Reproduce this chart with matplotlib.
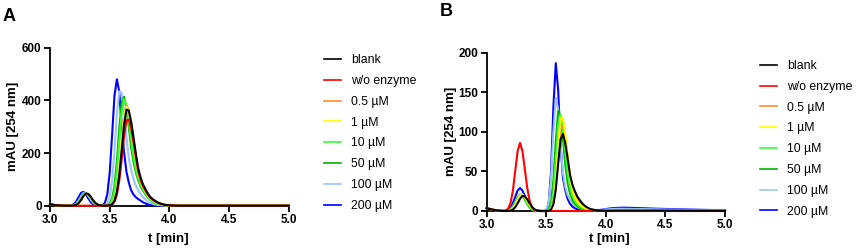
import matplotlib.pyplot as plt
from matplotlib.lines import Line2D

plt.rcParams['font.family'] = ['Liberation Sans', 'DejaVu Sans']

# retention time grid (min), same for every trace
t = [3.00, 3.04, 3.08,
     3.12, 3.14, 3.16, 3.18, 3.20, 3.22, 3.24, 3.26, 3.28, 3.30,
     3.32, 3.34, 3.36, 3.38, 3.40, 3.42, 3.44, 3.46, 3.48, 3.50,
     3.52, 3.54, 3.56, 3.58, 3.60, 3.62, 3.64, 3.66, 3.68, 3.70,
     3.72, 3.74, 3.76, 3.78, 3.80, 3.82, 3.84, 3.86, 3.88, 3.90,
     3.92, 3.96, 4.00, 4.05, 4.10, 4.15, 4.25, 4.40, 4.60, 4.80, 5.00]

labels = ['blank', 'w/o enzyme', '0.5 µM', '1 µM', '10 µM', '50 µM', '100 µM', '200 µM']
colors = ['#000000', '#ff0000', '#ff8c2a', '#ffff00', '#33ff33', '#00b400', '#9cc4ff', '#0000ff']

x_ticks = [3.0, 3.5, 4.0, 4.5, 5.0]
x_ticklabels = ['3.0', '3.5', '4.0', '4.5', '5.0']
a_yticks = [0, 200, 400, 600]
b_yticks = [0, 50, 100, 150, 200]

# panel A, mAU at 254 nm
a_blank = [6, 2.5, 0.8,
           0.2, 0.1, 0, 0.2, 0.9, 3.4, 10, 21.8, 36.5, 46.2,
           44.8, 34.5, 21.2, 10.3, 4.1, 1.3, 0.3, 0.1, 0.3, 1.4,
           5.7, 19.3, 52.4, 116, 209, 306, 365, 361, 318, 258,
           195, 140, 105, 80, 63, 46, 33, 25, 19, 13,
           9, 3.5, 1.2, 0.3, 0, 0, 0, 0, 0, 0, 0]
a_wo = [5, 2, 0.6,
        0.2, 0.1, 0, 0, 0, 0, 0, 0, 0, 0,
        0, 0, 0, 0, 0, 0, 0, 0, 0.2, 1.0,
        4.2, 14.6, 41, 94, 174, 263, 324, 327, 293, 240,
        180, 128, 95, 73, 57, 42, 31, 23, 17, 12,
        8.5, 3.2, 1.1, 0.3, 0, 0, 0, 0, 0, 0, 0]
a_05 = [6, 2.5, 0.8,
        0.2, 0.1, 0, 0.2, 1.0, 3.7, 10.6, 22.6, 37, 45.6,
        43.3, 33, 20, 9.6, 3.7, 1.1, 0.3, 0.1, 0.3, 1.6,
        6.8, 22.9, 61.8, 134.7, 236, 334, 380.6, 364, 312, 246,
        180, 128, 96, 74, 57, 42, 31, 22, 16, 11,
        7.5, 2.7, 0.9, 0.2, 0, 0, 0, 0, 0, 0, 0]
a_1 = [6, 2.5, 0.8,
       0.2, 0.1, 0, 0.2, 1.0, 3.7, 10.6, 22.6, 37, 45.6,
       43.3, 33, 20, 9.6, 3.7, 1.1, 0.3, 0.1, 0.4, 1.9,
       7.7, 25.2, 66.6, 142, 244, 338, 376, 355, 302, 236,
       172, 122, 92, 70, 54, 40, 29, 21, 15, 10,
       7, 2.5, 0.8, 0.2, 0, 0, 0, 0, 0, 0, 0]
a_10 = [6, 2.5, 0.8,
        0.2, 0.1, 0, 0.3, 1.5, 5.1, 13.5, 27, 41, 47,
        42, 29.9, 16.9, 7.7, 2.8, 0.8, 0.2, 0.2, 1.0, 4.8,
        18.3, 54.8, 129, 240, 351, 404.5, 385, 325, 250, 185,
        138, 104, 80, 62, 47, 34, 24, 17, 12, 8,
        5.5, 2, 0.6, 0.1, 0, 0, 0, 0, 0, 0, 0]
a_50 = [6, 2.5, 0.8,
        0.2, 0.1, 0, 0.3, 1.5, 5.2, 13.8, 27.6, 41.8, 48,
        42.9, 30.5, 17.3, 7.9, 2.8, 0.8, 0.2, 0.25, 1.5, 7.2,
        26.3, 75, 167, 290, 391, 413.6, 372, 298, 222, 165,
        125, 95, 73, 57, 43, 31, 22, 16, 11, 7.5,
        5, 1.8, 0.5, 0.1, 0, 0, 0, 0, 0, 0, 0]
a_100 = [6, 2.5, 0.8,
         0.2, 0.1, 0.1, 0.6, 2.6, 8.4, 20, 36, 48.2, 48.5,
         38.3, 23.8, 11.7, 4.5, 1.4, 0.3, 0.3, 1.7, 8.4, 32,
         93, 206, 343, 434.6, 428, 358, 262, 180, 135, 100,
         76, 58, 44, 32, 23, 16, 11, 7.5, 5, 3,
         2, 0.8, 0.3, 0, 0, 0, 0, 0, 0, 0, 0]
a_200 = [6, 2.5, 0.8,
         0.2, 0.05, 0.3, 1.6, 6.1, 16.5, 33, 48.6, 52.6, 43.6,
         28.2, 14.2, 5.6, 1.7, 0.4, 0.4, 2.0, 11, 43.5, 125,
         267, 417.6, 480, 434, 310, 205, 130, 88, 58, 42,
         32, 25, 19, 13, 8.5, 5.5, 3, 2, 1.2, 0.7,
         0.4, 0.1, 0, 0, 0, 0, 0, 0, 0, 0, 0]

# panel B, mAU at 254 nm
b_blank = [3.5, 2.0, 0.8,
           0.2, 0.1, 0, 0.1, 0.5, 1.8, 4.8, 9.7, 15.4, 19.1,
           18.6, 14.8, 9.7, 5.2, 2.3, 0.8, 0.3, 0.1, 0, 0,
           0.3, 1.8, 8.5, 27, 59.5, 90.6, 97.1, 85.7, 66, 45,
           33, 25, 18.5, 14, 10, 7, 4.8, 3.2, 2.2, 1.5,
           1.0, 0.6, 0.4, 0.4, 0.5, 0.5, 0.5, 0.5, 0.4, 0.3, 0.2]
b_wo = [3.5, 2.0, 0.8,
        0.2, 0.2, 0.6, 2.9, 9.9, 25.7, 50.8, 75.9, 86, 75.9,
        53.4, 30, 13.3, 4.8, 1.4, 0.3, 0.1, 0, 0, 0,
        0, 0, 0, 0, 0, 0, 0, 0, 0, 0,
        0, 0, 0, 0, 0, 0, 0, 0, 0, 0,
        0, 0, 0, 0, 0, 0, 0, 0, 0, 0, 0]
b_05 = [3.5, 2.0, 0.8,
        0.2, 0.1, 0, 0.2, 0.8, 2.6, 6.2, 11.5, 16.5, 19,
        17.6, 13.4, 8.3, 4.2, 1.8, 0.6, 0.2, 0, 0, 0,
        0.3, 2.2, 10, 32.5, 70.9, 104.7, 107.8, 92, 68, 45,
        30, 21, 15, 11, 8, 5.5, 3.8, 2.6, 1.8, 1.2,
        0.8, 0.5, 0.4, 0.4, 0.5, 0.5, 0.5, 0.4, 0.3, 0.2, 0.1]
b_1 = [3.5, 2.0, 0.8,
       0.2, 0.1, 0.1, 0.3, 1.2, 3.6, 8.1, 14.3, 19.6, 20.9,
       18.0, 12.7, 7.4, 3.5, 1.4, 0.4, 0.1, 0, 0, 0,
       0.3, 2.2, 11.1, 36.8, 81.1, 117.9, 118.1, 97, 68, 42,
       26, 17, 12, 8.5, 6, 4.2, 3, 2, 1.3, 0.9,
       0.6, 0.4, 0.4, 0.4, 0.5, 0.5, 0.5, 0.4, 0.3, 0.2, 0.1]
b_10 = [3.5, 2.0, 0.8,
        0.2, 0.1, 0.1, 0.5, 1.6, 4.3, 9.2, 15.1, 19.4, 19.5,
        15.9, 10.5, 5.6, 2.5, 0.9, 0.3, 0.1, 0, 0, 0.1,
        0.8, 5.4, 22.9, 62.2, 108.5, 122.2, 105.4, 76, 48, 30,
        19, 12.5, 8.5, 6, 4, 2.8, 2, 1.4, 1, 0.6,
        0.5, 0.5, 0.5, 0.7, 0.9, 1.0, 1.0, 0.9, 0.8, 0.6, 0.4]
b_50 = [3.5, 2.0, 0.8,
        0.2, 0.1, 0.15, 0.6, 2.1, 5.3, 10.6, 16.5, 19.8, 18.9,
        14.6, 9.2, 4.7, 1.9, 0.6, 0.2, 0, 0, 0, 0.2,
        1.8, 10.4, 38.4, 88.3, 126.1, 120.5, 91.9, 58, 35, 22,
        14, 9, 6, 4, 2.8, 2, 1.4, 1, 0.7, 0.5,
        0.4, 0.5, 0.7, 1.0, 1.2, 1.3, 1.3, 1.2, 1.0, 0.8, 0.5]
b_100 = [3.5, 2.0, 0.8,
         0.2, 0.1, 0.2, 0.7, 2.3, 5.9, 11.7, 18.1, 21.8, 20.8,
         16, 10.1, 5.1, 2.1, 0.7, 0.2, 0, 0, 0.1, 1.3,
         9.5, 40.6, 100, 143, 128.9, 85, 48, 30, 20, 14,
         10, 7, 5, 3.5, 2.5, 2, 1.6, 1.4, 1.2, 1.2,
         1.2, 1.5, 2, 2.5, 2.8, 2.8, 2.6, 2.2, 1.6, 1.1, 0.7]
b_200 = [3.5, 2.0, 0.8,
         0.2, 0.1, 0.35, 1.35, 4.1, 9.8, 18, 25.9, 29, 25.9,
         18.8, 11.1, 5.3, 2.1, 0.7, 0.2, 0, 0, 0.05, 1.0,
         9.5, 48.7, 131.5, 186.8, 153, 85, 42, 26, 15, 9,
         5.5, 3.5, 2.3, 1.6, 1.2, 0.9, 0.7, 0.6, 0.6, 0.7,
         0.8, 1.5, 2.5, 3.5, 4.0, 4.2, 3.8, 3.0, 2.2, 1.5, 1.0]

panel_a = [a_blank, a_wo, a_05, a_1, a_10, a_50, a_100, a_200]
panel_b = [b_blank, b_wo, b_05, b_1, b_10, b_50, b_100, b_200]

fig = plt.figure(figsize=(8.58, 2.52), dpi=100)
ax_a = fig.add_axes([0.0583, 0.1837, 0.2782, 0.627])
ax_b = fig.add_axes([0.5672, 0.1627, 0.2778, 0.6282])

# draw high concentrations first so blank ends up on top
draw_order = [7, 6, 5, 4, 2, 3, 1, 0]

setup = [
    (ax_a, panel_a, a_yticks, (-0.13, 0.5), (0.494, -0.172)),
    (ax_b, panel_b, b_yticks, (-0.125, 0.5), (0.513, -0.141)),
]

for ax, series, yticks, ylab_pos, xlab_pos in setup:
    for i in draw_order:
        ax.plot(t, series[i], color=colors[i], lw=1.5, clip_on=False, zorder=3)
    ax.set_xlim(3.0, 5.0)
    ax.set_ylim(0, yticks[-1])
    ax.set_xticks(x_ticks)
    ax.set_xticklabels(x_ticklabels, fontweight='bold', fontsize=8.5)
    ax.set_yticks(yticks)
    ax.set_yticklabels([str(v) for v in yticks], fontweight='bold', fontsize=8.5)
    ax.spines['top'].set_visible(False)
    ax.spines['right'].set_visible(False)
    for side in ['left', 'bottom']:
        ax.spines[side].set_linewidth(1.3)
    ax.tick_params(width=1.3, length=4, pad=2)
    ax.set_xlabel('t [min]', fontweight='bold', fontsize=9.5)
    ax.set_ylabel('mAU [254 nm]', fontweight='bold', fontsize=9.5)
    ax.yaxis.set_label_coords(*ylab_pos)
    ax.xaxis.set_label_coords(*xlab_pos)

handles = [Line2D([], [], color=c, lw=1.2) for c in colors]
for anchor in [(0.3776, 0.472), (0.8858, 0.449)]:
    fig.legend(handles, labels, loc='center left', bbox_to_anchor=anchor,
               frameon=False, handlelength=1.4, handletextpad=0.8, labelspacing=0.72,
               borderpad=0, borderaxespad=0, fontsize=8.8)

fig.text(0.003, 0.97, 'A', fontsize=13, fontweight='bold', va='top')
fig.text(0.512, 0.99, 'B', fontsize=13, fontweight='bold', va='top')

fig.savefig('out.png', dpi=100)
